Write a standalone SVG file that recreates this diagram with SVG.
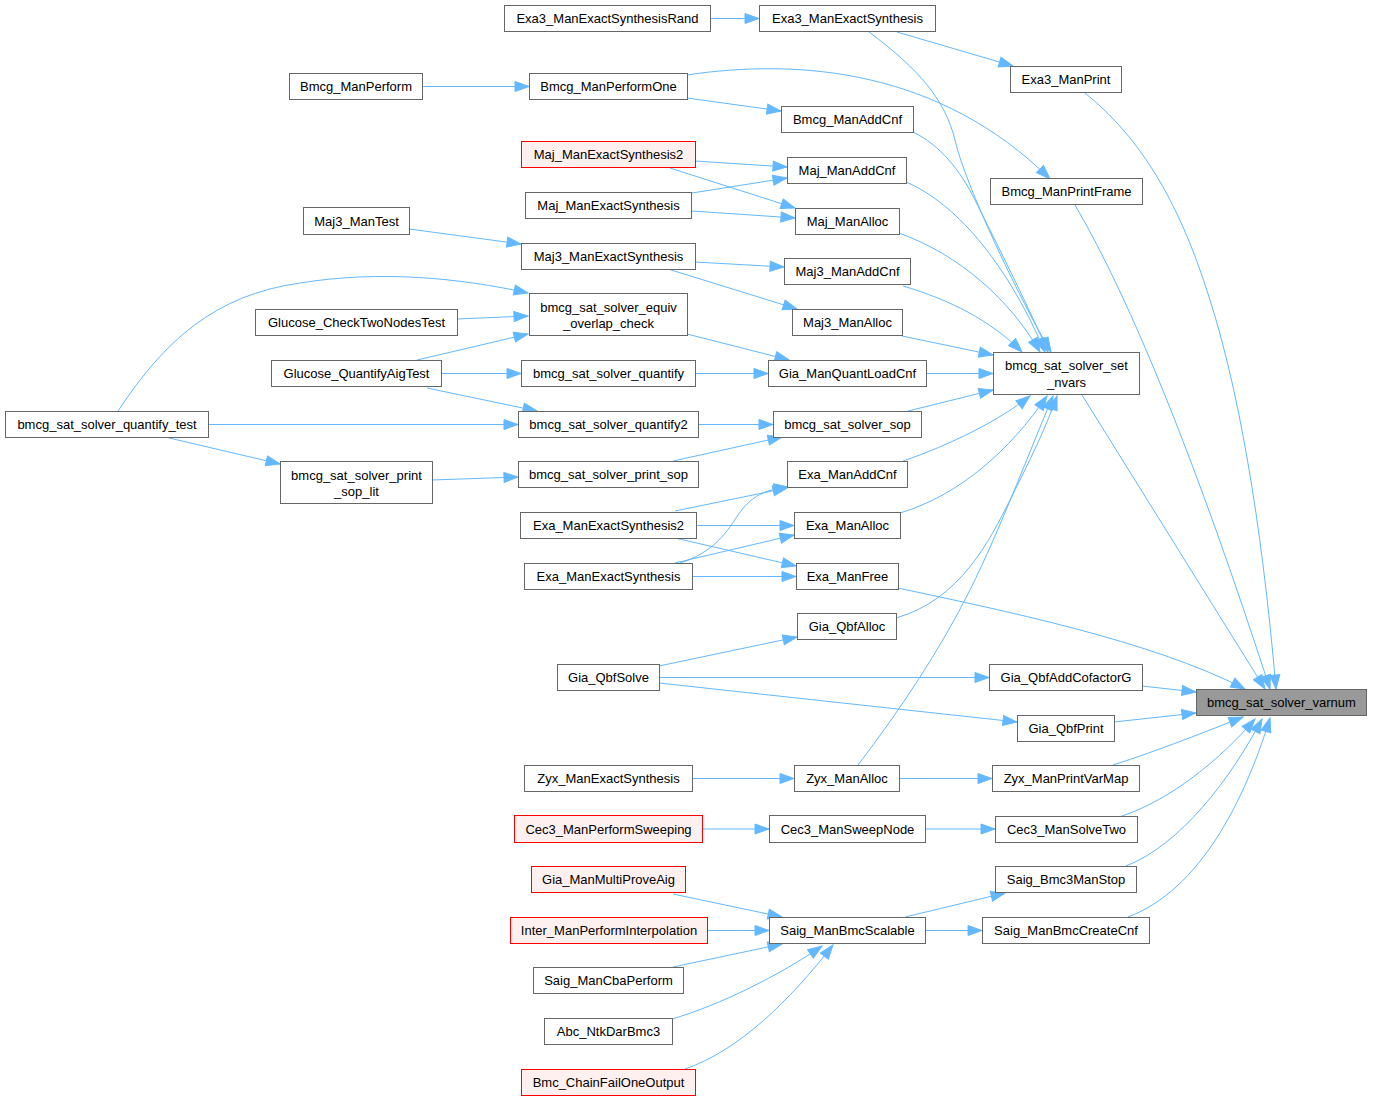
<svg xmlns="http://www.w3.org/2000/svg" width="1373" height="1101" viewBox="0 0 1373 1101">
<style>
.n rect{fill:#ffffff;stroke:#666666;stroke-width:1}
.r rect{fill:#fff0f0;stroke:#ff0000;stroke-width:1}
.h rect{fill:#999999;stroke:#666666;stroke-width:1}
text{font-family:"Liberation Sans",Arial,Helvetica,sans-serif;font-size:13px;fill:#000000;text-anchor:middle}
.e path{fill:none;stroke:#63b8ff;stroke-width:1;marker-end:url(#ah)}
</style>
<defs>
<marker id="ah" markerUnits="userSpaceOnUse" markerWidth="14" markerHeight="10" refX="14" refY="5" orient="auto" viewBox="0 0 14 10" overflow="visible">
<path d="M0,0 L14,5 L0,10 z" fill="#63b8ff" stroke="#63b8ff" stroke-width="1"/>
</marker>
</defs>
<rect x="0" y="0" width="1373" height="1101" fill="#ffffff"/>
<g id="edges" class="e">
<path d="M711,18.5 L759,18.5"/>
<path d="M897,32 L1013,66"/>
<path d="M869,32 C920,70 945,100 955,140 C965,185 1020,300 1051,352"/>
<path d="M1085,93 C1150,145 1185,220 1210,300 C1245,410 1265,560 1276,689"/>
<path d="M422,86.5 L529,86.5"/>
<path d="M687,98 L781,111"/>
<path d="M687,75 C800,58 940,70 1050,179"/>
<path d="M913,132 C940,145 960,170 975,200 C1000,250 1030,310 1048,352"/>
<path d="M1075,205 Q1160,350 1270,689"/>
<path d="M695,161 L787,167"/>
<path d="M670,168 L795,208"/>
<path d="M692,193 L787,178"/>
<path d="M692,211 L795,218"/>
<path d="M906,182 C960,205 1010,270 1045,352"/>
<path d="M899,233 C960,255 1010,300 1040,352"/>
<path d="M409,229 L521,244"/>
<path d="M695,262 L784,267"/>
<path d="M668,269 L797,309"/>
<path d="M903,286 C950,300 990,320 1022,352"/>
<path d="M902,336 L993,355"/>
<path d="M118,411 C165,340 215,295 300,283 C380,270 460,278 528,293"/>
<path d="M457,319 L528,316"/>
<path d="M417,360 L528,334"/>
<path d="M441,373.5 L521,373.5"/>
<path d="M427,388 L537,411"/>
<path d="M208,424.5 L518,424.5"/>
<path d="M165,437 L280,464"/>
<path d="M432,480 L518,477"/>
<path d="M687,334 L789,360"/>
<path d="M695,373.5 L768,373.5"/>
<path d="M698,424.5 L773,424.5"/>
<path d="M673,461 L782,437"/>
<path d="M926,373.5 L993,373.5"/>
<path d="M908,411 L993,390"/>
<path d="M903,461 C950,445 1000,420 1030,396"/>
<path d="M900,513 C960,495 1010,450 1047,396"/>
<path d="M896,618 C960,600 990,540 1010,500 C1030,460 1045,430 1057,396"/>
<path d="M858,765 C900,710 940,650 970,590 C1000,530 1030,450 1053,396"/>
<path d="M1082,395 L1265,689"/>
<path d="M675,511 L787,488"/>
<path d="M696,525.5 L794,525.5"/>
<path d="M675,538 L796,566"/>
<path d="M680,563 C715,552 728,530 738,515 C752,495 765,490 788,487"/>
<path d="M675,563 L794,535"/>
<path d="M692,576.5 L796,576.5"/>
<path d="M898,588 C1000,610 1150,640 1245,689"/>
<path d="M659,666 L797,637"/>
<path d="M659,677.5 L989,677.5"/>
<path d="M659,683 L1017,722"/>
<path d="M1142,686 L1196,692"/>
<path d="M1114,722 L1196,713"/>
<path d="M692,778.5 L794,778.5"/>
<path d="M899,778.5 L992,778.5"/>
<path d="M1113,765 C1160,750 1210,730 1243,717"/>
<path d="M702,829 L769,829"/>
<path d="M925,829 L995,829"/>
<path d="M1122,816 C1170,800 1220,760 1255,719"/>
<path d="M673,894 L782,917"/>
<path d="M707,930.5 L769,930.5"/>
<path d="M673,967 L782,944"/>
<path d="M672,1019 C720,1005 780,975 822,946"/>
<path d="M685,1069 C740,1050 790,1000 833,945"/>
<path d="M905,917 L1005,893"/>
<path d="M925,930.5 L982,930.5"/>
<path d="M1126,866 C1180,845 1230,780 1262,719"/>
<path d="M1128,917 C1200,890 1245,800 1270,718"/>
</g>
<g id="Exa3_ManExactSynthesisRand" class="n"><rect x="504.5" y="5.5" width="206" height="26"/><text x="607.5" y="23">Exa3_ManExactSynthesisRand</text></g>
<g id="Exa3_ManExactSynthesis" class="n"><rect x="759.5" y="5.5" width="176" height="26"/><text x="847.5" y="23">Exa3_ManExactSynthesis</text></g>
<g id="Exa3_ManPrint" class="n"><rect x="1010.5" y="66.5" width="111" height="26"/><text x="1066" y="84">Exa3_ManPrint</text></g>
<g id="Bmcg_ManPerform" class="n"><rect x="289.5" y="73.5" width="133" height="26"/><text x="356" y="91">Bmcg_ManPerform</text></g>
<g id="Bmcg_ManPerformOne" class="n"><rect x="529.5" y="73.5" width="158" height="26"/><text x="608.5" y="91">Bmcg_ManPerformOne</text></g>
<g id="Bmcg_ManAddCnf" class="n"><rect x="781.5" y="106.5" width="132" height="26"/><text x="847.5" y="124">Bmcg_ManAddCnf</text></g>
<g id="Bmcg_ManPrintFrame" class="n"><rect x="990.5" y="178.5" width="152" height="26"/><text x="1066.5" y="196">Bmcg_ManPrintFrame</text></g>
<g id="Maj_ManExactSynthesis2" class="r"><rect x="521.5" y="141.5" width="174" height="26"/><text x="608.5" y="159">Maj_ManExactSynthesis2</text></g>
<g id="Maj_ManAddCnf" class="n"><rect x="787.5" y="157.5" width="119" height="26"/><text x="847" y="175">Maj_ManAddCnf</text></g>
<g id="Maj_ManExactSynthesis" class="n"><rect x="525.5" y="192.5" width="166" height="26"/><text x="608.5" y="210">Maj_ManExactSynthesis</text></g>
<g id="Maj_ManAlloc" class="n"><rect x="795.5" y="208.5" width="104" height="26"/><text x="847.5" y="226">Maj_ManAlloc</text></g>
<g id="Maj3_ManTest" class="n"><rect x="303.5" y="207.5" width="106" height="27"/><text x="356.5" y="225.5">Maj3_ManTest</text></g>
<g id="Maj3_ManExactSynthesis" class="n"><rect x="521.5" y="243.5" width="174" height="26"/><text x="608.5" y="261">Maj3_ManExactSynthesis</text></g>
<g id="Maj3_ManAddCnf" class="n"><rect x="784.5" y="258.5" width="126" height="26"/><text x="847.5" y="276">Maj3_ManAddCnf</text></g>
<g id="Maj3_ManAlloc" class="n"><rect x="792.5" y="309.5" width="110" height="26"/><text x="847.5" y="327">Maj3_ManAlloc</text></g>
<g id="bmcg_sat_solver_equiv_overlap_check" class="n"><rect x="529.5" y="293.5" width="158" height="42"/><text x="608.5" y="311.5">bmcg_sat_solver_equiv</text><text x="608.5" y="327.5">_overlap_check</text></g>
<g id="Glucose_CheckTwoNodesTest" class="n"><rect x="255.5" y="309.5" width="202" height="26"/><text x="356.5" y="327">Glucose_CheckTwoNodesTest</text></g>
<g id="Glucose_QuantifyAigTest" class="n"><rect x="271.5" y="360.5" width="170" height="26"/><text x="356.5" y="378">Glucose_QuantifyAigTest</text></g>
<g id="bmcg_sat_solver_quantify" class="n"><rect x="521.5" y="360.5" width="174" height="26"/><text x="608.5" y="378">bmcg_sat_solver_quantify</text></g>
<g id="Gia_ManQuantLoadCnf" class="n"><rect x="768.5" y="360.5" width="158" height="26"/><text x="847.5" y="378">Gia_ManQuantLoadCnf</text></g>
<g id="bmcg_sat_solver_set_nvars" class="n"><rect x="993.5" y="352.5" width="146" height="42"/><text x="1066.5" y="369.5">bmcg_sat_solver_set</text><text x="1066.5" y="386.5">_nvars</text></g>
<g id="bmcg_sat_solver_quantify_test" class="n"><rect x="5.5" y="411.5" width="203" height="26"/><text x="107" y="429">bmcg_sat_solver_quantify_test</text></g>
<g id="bmcg_sat_solver_quantify2" class="n"><rect x="518.5" y="411.5" width="180" height="26"/><text x="608.5" y="429">bmcg_sat_solver_quantify2</text></g>
<g id="bmcg_sat_solver_sop" class="n"><rect x="773.5" y="411.5" width="148" height="26"/><text x="847.5" y="429">bmcg_sat_solver_sop</text></g>
<g id="bmcg_sat_solver_print_sop_lit" class="n"><rect x="280.5" y="461.5" width="152" height="42"/><text x="356.5" y="479.5">bmcg_sat_solver_print</text><text x="356.5" y="495.5">_sop_lit</text></g>
<g id="bmcg_sat_solver_print_sop" class="n"><rect x="518.5" y="461.5" width="180" height="26"/><text x="608.5" y="479">bmcg_sat_solver_print_sop</text></g>
<g id="Exa_ManAddCnf" class="n"><rect x="787.5" y="461.5" width="120" height="26"/><text x="847.5" y="479">Exa_ManAddCnf</text></g>
<g id="Exa_ManExactSynthesis2" class="n"><rect x="520.5" y="512.5" width="176" height="26"/><text x="608.5" y="530">Exa_ManExactSynthesis2</text></g>
<g id="Exa_ManAlloc" class="n"><rect x="794.5" y="512.5" width="106" height="26"/><text x="847.5" y="530">Exa_ManAlloc</text></g>
<g id="Exa_ManExactSynthesis" class="n"><rect x="524.5" y="563.5" width="168" height="26"/><text x="608.5" y="581">Exa_ManExactSynthesis</text></g>
<g id="Exa_ManFree" class="n"><rect x="796.5" y="563.5" width="102" height="26"/><text x="847.5" y="581">Exa_ManFree</text></g>
<g id="Gia_QbfAlloc" class="n"><rect x="797.5" y="613.5" width="99" height="26"/><text x="847" y="631">Gia_QbfAlloc</text></g>
<g id="Gia_QbfSolve" class="n"><rect x="557.5" y="664.5" width="102" height="26"/><text x="608.5" y="682">Gia_QbfSolve</text></g>
<g id="Gia_QbfAddCofactorG" class="n"><rect x="989.5" y="664.5" width="153" height="26"/><text x="1066" y="682">Gia_QbfAddCofactorG</text></g>
<g id="bmcg_sat_solver_varnum" class="h"><rect x="1196.5" y="689.5" width="170" height="26"/><text x="1281.5" y="707">bmcg_sat_solver_varnum</text></g>
<g id="Gia_QbfPrint" class="n"><rect x="1017.5" y="715.5" width="97" height="26"/><text x="1066" y="733">Gia_QbfPrint</text></g>
<g id="Zyx_ManExactSynthesis" class="n"><rect x="524.5" y="765.5" width="168" height="26"/><text x="608.5" y="783">Zyx_ManExactSynthesis</text></g>
<g id="Zyx_ManAlloc" class="n"><rect x="794.5" y="765.5" width="105" height="26"/><text x="847" y="783">Zyx_ManAlloc</text></g>
<g id="Zyx_ManPrintVarMap" class="n"><rect x="992.5" y="765.5" width="147" height="26"/><text x="1066" y="783">Zyx_ManPrintVarMap</text></g>
<g id="Cec3_ManPerformSweeping" class="r"><rect x="514.5" y="815.5" width="188" height="27"/><text x="608.5" y="833.5">Cec3_ManPerformSweeping</text></g>
<g id="Cec3_ManSweepNode" class="n"><rect x="769.5" y="815.5" width="156" height="27"/><text x="847.5" y="833.5">Cec3_ManSweepNode</text></g>
<g id="Cec3_ManSolveTwo" class="n"><rect x="995.5" y="816.5" width="142" height="26"/><text x="1066.5" y="834">Cec3_ManSolveTwo</text></g>
<g id="Gia_ManMultiProveAig" class="r"><rect x="531.5" y="866.5" width="154" height="26"/><text x="608.5" y="884">Gia_ManMultiProveAig</text></g>
<g id="Saig_Bmc3ManStop" class="n"><rect x="995.5" y="866.5" width="141" height="26"/><text x="1066" y="884">Saig_Bmc3ManStop</text></g>
<g id="Inter_ManPerformInterpolation" class="r"><rect x="510.5" y="917.5" width="197" height="26"/><text x="609" y="935">Inter_ManPerformInterpolation</text></g>
<g id="Saig_ManBmcScalable" class="n"><rect x="769.5" y="917.5" width="156" height="26"/><text x="847.5" y="935">Saig_ManBmcScalable</text></g>
<g id="Saig_ManBmcCreateCnf" class="n"><rect x="982.5" y="917.5" width="167" height="26"/><text x="1066" y="935">Saig_ManBmcCreateCnf</text></g>
<g id="Saig_ManCbaPerform" class="n"><rect x="533.5" y="967.5" width="150" height="26"/><text x="608.5" y="985">Saig_ManCbaPerform</text></g>
<g id="Abc_NtkDarBmc3" class="n"><rect x="544.5" y="1018.5" width="128" height="26"/><text x="608.5" y="1036">Abc_NtkDarBmc3</text></g>
<g id="Bmc_ChainFailOneOutput" class="r"><rect x="521.5" y="1069.5" width="174" height="26"/><text x="608.5" y="1087">Bmc_ChainFailOneOutput</text></g>
</svg>
